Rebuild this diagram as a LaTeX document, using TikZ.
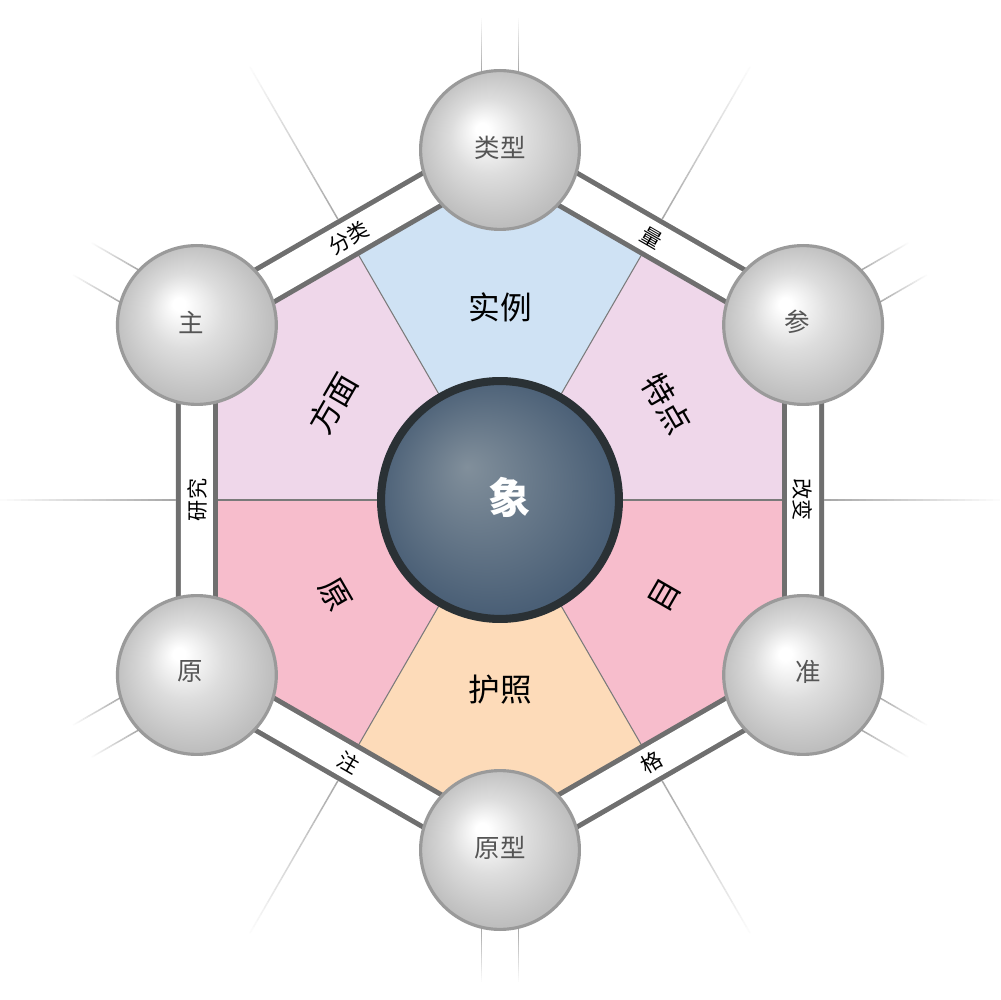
\documentclass[tikz,border=0pt]{standalone}
\usepackage{fontspec}
\newfontfamily\cjk{Noto Sans CJK SC}
\usetikzlibrary{calc}

\definecolor{bandgray}{HTML}{6F6F6F}
\definecolor{sepgray}{HTML}{7A7A7A}
\definecolor{wblue}{HTML}{CFE2F4}
\definecolor{wlav}{HTML}{EFD7EA}
\definecolor{wpink}{HTML}{F7BDCC}
\definecolor{wpeach}{HTML}{FDDBB9}
\definecolor{sphmid}{HTML}{DDDDDD}
\definecolor{sphedge}{HTML}{BEBEBE}
\definecolor{sphline}{HTML}{9A9A9A}
\definecolor{sphtext}{HTML}{555555}
\definecolor{cinner}{HTML}{818F9B}
\definecolor{couter}{HTML}{4A5F76}
\definecolor{cline}{HTML}{2A3135}
\definecolor{raygray}{HTML}{A8A8A8}

\pgfdeclareradialshading{sphshade}{\pgfpoint{-6bp}{7bp}}{color(0bp)=(white); color(2bp)=(white); color(12bp)=(sphmid); color(25bp)=(sphedge); color(30bp)=(sphedge)}
\pgfdeclareradialshading{ctrshade}{\pgfpoint{-7bp}{7bp}}{color(0bp)=(cinner); color(25bp)=(couter); color(30bp)=(couter)}

\newcommand\myray[4]{%
  \foreach \i in {0,...,24}{%
    \pgfmathsetmacro\ra{#3+(#4-#3)*\i/25}%
    \pgfmathsetmacro\rb{#3+(#4-#3)*(\i+1)/25}%
    \pgfmathtruncatemacro\pp{100-4*\i}%
    \draw[raygray!\pp!white, line width=0.85pt] ($(#1:\ra)+(#1+90:#2)$) -- ($(#1:\rb)+(#1+90:#2)$);
  }}

\begin{document}
\begin{tikzpicture}[x=0.02cm, y=0.02cm,
  sphere/.style={circle, minimum size=90.4pt, inner sep=0pt, draw=sphline, line width=1.8pt,
    shade, shading=sphshade},
  sphtxt/.style={text=sphtext, font=\cjk\fontsize{14.5}{14.5}\selectfont, inner sep=0pt},
  ctrnode/.style={circle, minimum size=135.4pt, inner sep=0pt, draw=cline, line width=4.6pt,
    shade, shading=ctrshade},
  ctrtext/.style={text=white, font=\cjk\bfseries\fontsize{24}{24}\selectfont, inner sep=0pt},
  wlab/.style={text=black, font=\cjk\fontsize{18}{18}\selectfont, inner sep=0pt},
  blab/.style={text=black, font=\cjk\fontsize{12}{12}\selectfont, inner sep=0pt},
  bandouter/.style={bandgray, line width=23.9pt, line join=miter},
  bandinner/.style={white, line width=18.2pt, line join=miter},
  sepline/.style={sepgray, line width=0.6pt}
]
\useasboundingbox[fill=white] (-500,-500) rectangle (500,500);

% hexagon vertices
\coordinate (v1) at (90:350);
\coordinate (v2) at (30:350);
\coordinate (v3) at (-30:350);
\coordinate (v4) at (-90:350);
\coordinate (v5) at (-150:350);
\coordinate (v6) at (150:350);

% wedges
\fill[wblue]  (0,0) -- (60:294.4) -- (90:340) -- (120:294.4) -- cycle;
\fill[wlav]   (0,0) -- (0:294.4) -- (30:340) -- (60:294.4) -- cycle;
\fill[wpink]  (0,0) -- (-60:294.4) -- (-30:340) -- (0:294.4) -- cycle;
\fill[wpeach] (0,0) -- (-120:294.4) -- (-90:340) -- (-60:294.4) -- cycle;
\fill[wpink]  (0,0) -- (180:294.4) -- (210:340) -- (240:294.4) -- cycle;
\fill[wlav]   (0,0) -- (120:294.4) -- (150:340) -- (180:294.4) -- cycle;

% wedge separators
\foreach \a in {0,60,...,300}{\draw[sepline] (0,0) -- (\a:286);}

% band
\draw[bandouter] (v1) -- (v2) -- (v3) -- (v4) -- (v5) -- (v6) -- cycle;
\draw[bandinner] (v1) -- (v2) -- (v3) -- (v4) -- (v5) -- (v6) -- cycle;

% outer fading rays at edge midpoints
\foreach \a in {0,60,...,300}{\myray{\a}{0}{324}{500}}
% outer fading double rays at vertices
\foreach \a in {90,30,-30,-90,-150,150}{\myray{\a}{18.5}{428}{482}\myray{\a}{-18.5}{428}{482}}

% centre
\node[ctrnode] (c) at (0,0) {};
\node[ctrtext] (ct) at (10,3) {象};

% spheres
\node[sphere] (s1) at (v1) {};
\node[sphere] (s2) at (v2) {};
\node[sphere] (s3) at (v3) {};
\node[sphere] (s4) at (v4) {};
\node[sphere] (s5) at (v5) {};
\node[sphere] (s6) at (v6) {};
\node[sphtxt] (t1) at ($(s1)+(0,2)$) {类型};
\node[sphtxt] (t2) at ($(s2)+(-6,3)$) {参};
\node[sphtxt] (t3) at ($(s3)+(5,3)$) {准};
\node[sphtxt] (t4) at ($(s4)+(0,2)$) {原型};
\node[sphtxt] (t5) at ($(s5)+(-7,3)$) {原};
\node[sphtxt] (t6) at ($(s6)+(-6,3)$) {主};

% wedge labels
\node[wlab] (w1) at (90:193) {实例};
\node[wlab, rotate=-60] (w2) at (30:193) {特点};
\node[wlab, rotate=60] (w3) at (-30:190) {目};
\node[wlab] (w4) at (-90:190) {护照};
\node[wlab, rotate=-60] (w5) at (210:190) {原};
\node[wlab, rotate=60] (w6) at (150:193) {方面};

% band labels
\node[blab, rotate=30] (b1) at (120:303) {分类};
\node[blab, rotate=-30] (b2) at (60:303) {量};
\node[blab, rotate=-90] (b3) at (0:303) {改变};
\node[blab, rotate=30] (b4) at (-60:303) {格};
\node[blab, rotate=-30] (b5) at (-120:303) {注};
\node[blab, rotate=90] (b6) at (180:303) {研究};
\end{tikzpicture}
\end{document}
